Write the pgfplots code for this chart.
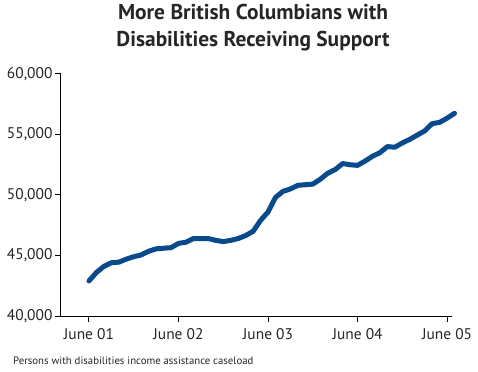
\documentclass[border=0pt]{standalone}
\usepackage{fontspec}
\setmainfont{PT Sans}
\usepackage{pgfplots}
\pgfplotsset{compat=1.18}
\definecolor{lineblue}{RGB}{8,74,140}
\begin{document}
\begin{tikzpicture}
\path (0,0) rectangle (478bp,372bp);
\begin{axis}[
  at={(61bp,56bp)}, anchor=south west,
  scale only axis, width=391bp, height=242bp,
  xmin=-3.75, xmax=48.66, ymin=40000, ymax=60000,
  axis x line*=bottom, axis y line*=left,
  axis line style={line width=1bp, black},
  tick align=outside, major tick length=6bp,
  tick style={line width=1bp, black},
  xtick={0,12,24,36,48},
  xticklabels={June 01,June 02,June 03,June 04,June 05},
  ytick={40000,45000,50000,55000,60000},
  scaled y ticks=false,
  /pgf/number format/1000 sep={,},
  /pgf/number format/assume math mode=true,
  ticklabel style={font=\fontsize{15.5}{17}\selectfont, text=black!85},
  yticklabel style={xshift=1bp},
  xticklabel style={yshift=-3bp},
  clip=false,
]
\addplot[lineblue, line width=5bp, line join=round, line cap=round] coordinates {
(0,42900) (1,43600) (2,44100) (3,44400) (4,44450) (5,44700) (6,44900) (7,45050)
(8,45350) (9,45550) (10,45600) (11,45650) (12,46000) (13,46100) (14,46400) (15,46400)
(16,46400) (17,46250) (18,46150) (19,46250) (20,46400) (21,46650) (22,47000) (23,47900)
(24,48600) (25,49800) (26,50300) (27,50500) (28,50800) (29,50850) (30,50900) (31,51300)
(32,51800) (33,52100) (34,52600) (35,52500) (36,52450) (37,52800) (38,53200) (39,53500)
(40,54000) (41,53950) (42,54300) (43,54600) (44,54950) (45,55300) (46,55900) (47,56000)
(48,56350) (49,56750)
};
\end{axis}
\node[anchor=base, inner sep=0pt, font=\fontsize{21.5}{23}\selectfont\bfseries, text=black!85] at (253bp,352bp) {More British Columbians with};
\node[anchor=base, inner sep=0pt, font=\fontsize{21.5}{23}\selectfont\bfseries, text=black!85] at (253bp,325bp) {Disabilities Receiving Support};
\node[anchor=base west, inner sep=0pt, font=\fontsize{10.8}{12}\selectfont, text=black!85] at (13bp,8bp) {Persons with disabilities income assistance caseload};
\end{tikzpicture}
\end{document}
